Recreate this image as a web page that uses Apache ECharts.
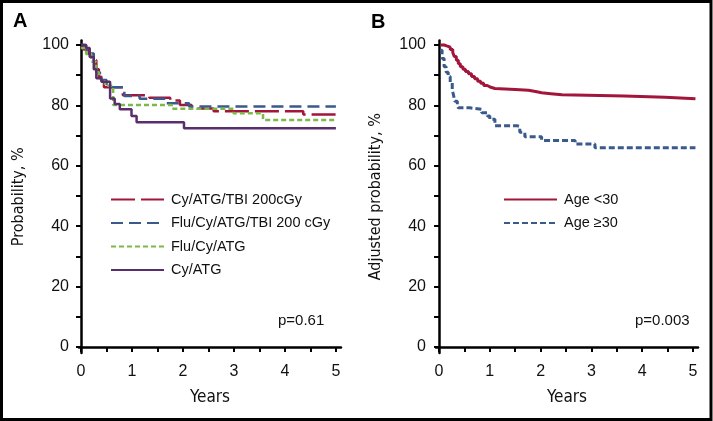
<!DOCTYPE html>
<html>
<head>
<meta charset="utf-8">
<script src="https://cdn.jsdelivr.net/npm/echarts@6/dist/echarts.min.js"></script>
<style>
  html, body { margin: 0; padding: 0; background: #fff; }
  #main { width: 713px; height: 421px; }
</style>
</head>
<body>
<div id="main"></div>
<script>
// panel A: [years, probability %] at each step
var cyAtgTbi = [[0,100],[0.05,98.5],[0.15,97],[0.25,95],[0.3,92],[0.35,89.5],[0.4,87.5],[0.45,86],[0.82,83.4],[1.34,82.5],[1.75,81.6],[1.94,80.1],[2.17,79],[2.6,78.1],[4.36,77],[5.0,77]];
var fluCyAtgTbi = [[0,100],[0.1,98.5],[0.2,97.2],[0.25,94.5],[0.3,91],[0.37,88.4],[0.5,87],[0.6,86],[0.85,83.1],[1.15,82.2],[1.68,80.7],[2.12,79.6],[5.0,79.6]];
var fluCyAtg = [[0,99],[0.1,97],[0.2,94.5],[0.3,91],[0.35,89],[0.4,88],[0.47,86.5],[0.63,80.1],[1.78,78.9],[2.99,77.4],[3.57,75.2],[5.0,75.2]];
var cyAtg = [[0,100],[0.1,99],[0.17,96],[0.25,92],[0.3,89],[0.4,87.8],[0.57,82.3],[0.66,80.5],[0.76,78.7],[0.99,76.5],[1.09,74.4],[2.02,72.4],[5.0,72.4]];

// panel B
var ageUnder30 = [[0.03,100],[0.1,99.7],[0.15,99.3],[0.22,98.5],[0.27,97.5],[0.3,96.2],[0.34,95],[0.38,93.8],[0.42,92.8],[0.47,92],[0.52,91.2],[0.58,90.5],[0.64,89.6],[0.7,88.8],[0.76,88],[0.82,87.3],[0.88,86.6],[0.95,86],[1.02,85.6],[1.1,85.3],[1.5,85],[1.76,84.6],[1.9,84.2],[2.02,83.9],[2.2,83.5],[2.42,83.1],[3.65,82.7],[4.45,82.2],[5.05,82.2]];
var age30Plus = [[0.02,98.3],[0.06,95.5],[0.1,92.8],[0.14,91],[0.18,89.6],[0.22,87.5],[0.26,85.2],[0.29,83],[0.31,81.4],[0.36,80],[0.38,79.2],[0.61,78.7],[0.84,77.6],[0.95,76.5],[1.0,75.4],[1.1,73.3],[1.53,73],[1.59,71.1],[1.69,69.6],[2.02,68.4],[2.68,67.2],[3.07,66],[5.05,66]];

var xTicks = [0,0.5,1,1.5,2,2.5,3,3.5,4,4.5,5];
var xLabels = [0,1,2,3,4,5];
var yTicks = [0,10,20,30,40,50,60,70,80,90,100];
var yLabels = [0,20,40,60,80,100];

var RED = '#a3163b', BLUE = '#3a5a8c', GREEN = '#7cb94a', PURPLE = '#5a2d6c';
var narrow = "'Liberation Sans Narrow', 'DejaVu Sans Condensed', sans-serif";
var sans = "'Liberation Sans', Arial, sans-serif";

function xAx(idx, min) {
  return {
    gridIndex: idx, type: 'value', min: min, max: 5.1,
    name: 'Years', nameLocation: 'middle', nameGap: 36,
    nameTextStyle: { fontFamily: narrow, fontSize: 17, color: '#111' },
    axisLine: { lineStyle: { color: '#000', width: 2.5 } },
    axisTick: { customValues: xTicks, length: 5, lineStyle: { color: '#000', width: 2 } },
    axisLabel: { customValues: xLabels, margin: 11, fontFamily: sans, fontSize: 16, color: '#111' },
    splitLine: { show: false }
  };
}
function yAx(idx, name) {
  return {
    gridIndex: idx, type: 'value', min: -2, max: 101.5,
    name: name, nameLocation: 'middle', nameGap: 52, nameRotate: 90,
    nameTextStyle: { fontFamily: narrow, fontSize: 16, color: '#111' },
    axisLine: { show: true, lineStyle: { color: '#000', width: 2.5 } },
    axisTick: { show: true, customValues: yTicks, length: 5, lineStyle: { color: '#000', width: 2 } },
    axisLabel: { customValues: yLabels, margin: 10, fontFamily: sans, fontSize: 16, color: '#111' },
    splitLine: { show: false }
  };
}
function km(name, data, color, type, idx, width) {
  return {
    name: name, type: 'line', step: 'end', data: data,
    xAxisIndex: idx, yAxisIndex: idx, symbol: 'none', silent: true,
    lineStyle: { color: color, width: width, type: type, cap: 'butt' },
    itemStyle: { color: color }
  };
}
function legendAt(left, names) {
  return {
    data: names, orient: 'vertical', left: left, top: 192, padding: 0,
    itemWidth: 53, itemHeight: 15, itemGap: 8.5,
    itemStyle: { opacity: 0 },
    textStyle: { fontFamily: sans, fontSize: 14.5, color: '#111', padding: [0, 0, 0, 2] }
  };
}

var chart = echarts.init(document.getElementById('main'));
chart.setOption({
  animation: false,
  grid: [
    { left: 79, top: 40.5, width: 262, height: 312.5 },
    { left: 436, top: 40.5, width: 262, height: 312.5 }
  ],
  xAxis: [xAx(0, -0.04), xAx(1, -0.06)],
  yAxis: [yAx(0, 'Probability, %'), yAx(1, 'Adjusted probability, %')],
  legend: [
    legendAt(110, ['Cy/ATG/TBI 200cGy', 'Flu/Cy/ATG/TBI 200 cGy', 'Flu/Cy/ATG', 'Cy/ATG']),
    legendAt(503, ['Age <30', 'Age ≥30'])
  ],
  series: [
    km('Cy/ATG/TBI 200cGy', cyAtgTbi, RED, [24, 6], 0, 2.5),
    km('Flu/Cy/ATG/TBI 200 cGy', fluCyAtgTbi, BLUE, [12, 6], 0, 2.5),
    km('Flu/Cy/ATG', fluCyAtg, GREEN, [5, 3], 0, 2.5),
    km('Cy/ATG', cyAtg, PURPLE, 'solid', 0, 2.5),
    km('Age <30', ageUnder30, RED, 'solid', 1, 3),
    km('Age ≥30', age30Plus, BLUE, [6, 3], 1, 3)
  ],
  graphic: [
    { type: 'rect', shape: { x: 1.5, y: 1.5, width: 709.5, height: 418 }, style: { fill: null, stroke: '#000', lineWidth: 3 } },
    { type: 'text', left: 13, top: 11, style: { text: 'A', font: 'bold 20px ' + sans, fill: '#000' } },
    { type: 'text', left: 371, top: 12, style: { text: 'B', font: 'bold 20px ' + sans, fill: '#000' } },
    { type: 'text', left: 278, top: 313, style: { text: 'p=0.61', font: '15px ' + sans, fill: '#111' } },
    { type: 'text', left: 635, top: 313, style: { text: 'p=0.003', font: '15px ' + sans, fill: '#111' } }
  ]
});
</script>
</body>
</html>
